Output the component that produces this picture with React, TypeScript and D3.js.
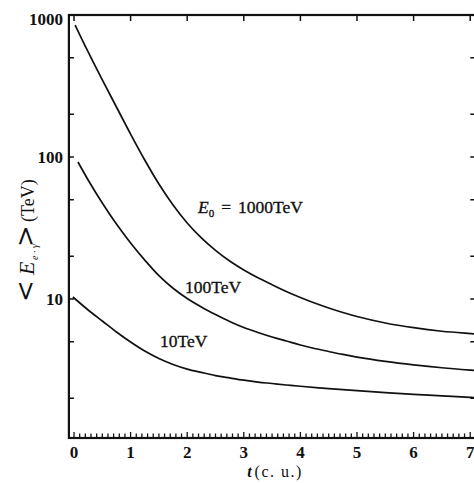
import React from "react";
import * as d3 from "d3";

const W = 474;
const H = 483;

// time axis (cascade units)
const xTicksMajor = [0, 1, 2, 3, 4, 5, 6, 7];
const xTicksMinor = d3.range(0, 71).map((i) => i / 10);
const yTicksMajor = [10, 100, 1000];
const yTicksMinor = [2, 5, 20, 50, 200, 500];

// curves: <E_e·γ> (TeV) vs t
const t1000 = [0.02, 0.25, 0.5, 0.75, 1.0, 1.25, 1.5, 1.75, 2.0, 2.25, 2.5, 2.75, 3.0, 3.25, 3.5, 3.75, 4.0, 4.25, 4.5, 4.75, 5.0, 5.5, 6.0, 6.5, 7.0, 7.1];
const v1000 = [850, 549, 349, 225, 145, 95.2, 64.5, 45.9, 34.3, 26.9, 22.0, 18.5, 16.0, 14.1, 12.6, 11.3, 10.25, 9.37, 8.65, 8.04, 7.53, 6.78, 6.28, 5.93, 5.71, 5.67];

const t100 = [0.07, 0.25, 0.5, 0.75, 1.0, 1.25, 1.5, 1.75, 2.0, 2.25, 2.5, 2.75, 3.0, 3.25, 3.5, 3.75, 4.0, 4.25, 4.5, 4.75, 5.0, 5.5, 6.0, 6.5, 7.0, 7.1];
const v100 = [92.2, 68.9, 47.4, 33.7, 24.8, 18.8, 14.6, 11.9, 10.08, 8.79, 7.78, 6.95, 6.3, 5.81, 5.4, 5.06, 4.74, 4.48, 4.27, 4.07, 3.9, 3.64, 3.44, 3.28, 3.16, 3.14];

const t10 = [-0.02, 0.25, 0.5, 0.75, 1.0, 1.25, 1.5, 1.75, 2.0, 2.25, 2.5, 2.75, 3.0, 3.25, 3.5, 3.75, 4.0, 4.5, 5.0, 5.5, 6.0, 6.5, 7.0, 7.1];
const v10 = [10.33, 8.37, 7.0, 5.86, 4.98, 4.3, 3.81, 3.46, 3.21, 3.04, 2.89, 2.78, 2.68, 2.6, 2.54, 2.48, 2.43, 2.34, 2.26, 2.19, 2.13, 2.08, 2.03, 2.02];

const seriesT = [t1000, t100, t10];
const seriesV = [v1000, v100, v10];

// curve labels (data coords)
const labelT = [2.19, 1.96, 1.52];
const labelV = [40.3, 11.0, 4.59];

const x = d3.scaleLinear().domain([0, 7]).range([74, 470.2]);
const y = d3.scaleLog().domain([1, 1000]).range([441, 15]);

const frameL = x(-0.09);
const frameR = x(7.09);
const frameT = y(1000);
const frameB = y(1.05);

const line = d3
  .line<[number, number]>()
  .x((d) => x(d[0]))
  .y((d) => y(d[1]))
  .curve(d3.curveCatmullRom.alpha(0.5));

const serif = "'Liberation Serif', 'DejaVu Serif', serif";
const ink = "#111";

export default function App() {
  return (
    <svg
      width={W}
      height={H}
      style={{ position: "absolute", left: 0, top: 0, background: "#fff" }}
      fontFamily={serif}
    >
      <rect x={0} y={0} width={W} height={H} fill="#fff" />
      {/* frame */}
      <rect
        x={frameL}
        y={frameT}
        width={frameR - frameL}
        height={frameB - frameT}
        fill="none"
        stroke={ink}
        strokeWidth={2.2}
      />
      {/* bottom ticks */}
      {xTicksMinor.map((t) => {
        const major = Math.abs(t - Math.round(t)) < 1e-6;
        return (
          <line
            key={"bm" + t}
            x1={x(t)}
            x2={x(t)}
            y1={frameB}
            y2={frameB - (major ? 6 : 4.5)}
            stroke={ink}
            strokeWidth={1.3}
          />
        );
      })}
      {/* top ticks */}
      {xTicksMajor.map((t) => (
        <line key={"tt" + t} x1={x(t)} x2={x(t)} y1={frameT} y2={frameT + 6} stroke={ink} strokeWidth={1.5} />
      ))}
      {/* left / right ticks */}
      {[...yTicksMajor, ...yTicksMinor].map((v) => (
        <g key={"yt" + v}>
          <line x1={frameL} x2={frameL + 5} y1={y(v)} y2={y(v)} stroke={ink} strokeWidth={1.5} />
          <line x1={frameR} x2={frameR - 5} y1={y(v)} y2={y(v)} stroke={ink} strokeWidth={1.5} />
        </g>
      ))}
      {/* x tick labels */}
      {xTicksMajor.map((t) => (
        <text key={"xl" + t} x={x(t)} y={458} textAnchor="middle" fontSize={17} fontWeight="bold" fill={ink}>
          {t}
        </text>
      ))}
      {/* y tick labels */}
      {yTicksMajor.map((v) => (
        <text
          key={"yl" + v}
          x={frameL - 6}
          y={y(v) + (v === 1000 ? 10 : 6)}
          textAnchor="end"
          fontSize={17}
          fontWeight="bold"
          fill={ink}
        >
          {v}
        </text>
      ))}
      {/* curves */}
      {seriesT.map((ts, i) => (
        <path
          key={"c" + i}
          d={line(ts.map((t, j) => [t, seriesV[i][j]] as [number, number])) || ""}
          fill="none"
          stroke={ink}
          strokeWidth={1.7}
        />
      ))}
      {/* curve labels */}
      <g fill={ink} stroke={ink} strokeWidth={0.35} fontSize={17.5}>
        <text x={x(labelT[0])} y={y(labelV[0])}>
          <tspan fontStyle="italic">E</tspan>
          <tspan fontSize={11} dy={4}>0</tspan>
          <tspan dy={-4} dx={7}>=</tspan>
          <tspan dx={7}>1000TeV</tspan>
        </text>
        <text x={x(labelT[1])} y={y(labelV[1])}>100TeV</text>
        <text x={x(labelT[2])} y={y(labelV[2])}>10TeV</text>
      </g>
      {/* x axis title */}
      <text x={275} y={477} textAnchor="middle" fontSize={16} fill={ink}>
        <tspan fontStyle="italic" fontWeight="bold">t</tspan>
        <tspan dx={3} letterSpacing={1.5}>(c. u.)</tspan>
      </text>
      {/* y axis title */}
      <g transform="translate(34,302) rotate(-90)" fill={ink}>
        <text x={0} y={0} fontSize={26} fontFamily="'DejaVu Serif', serif">&lt;</text>
        <text x={27} y={0} fontSize={22} fontStyle="italic">E</text>
        <text x={42} y={4} fontSize={10} fontStyle="italic">e · γ</text>
        <text x={55} y={0} fontSize={26} fontFamily="'DejaVu Serif', serif">&gt;</text>
        <text x={80} y={0} fontSize={18}>(TeV)</text>
      </g>
    </svg>
  );
}
